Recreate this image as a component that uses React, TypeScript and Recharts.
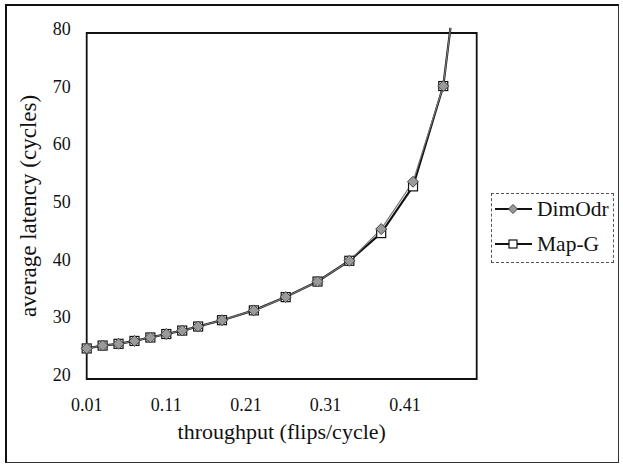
import React from 'react';
import { LineChart, Line, XAxis, YAxis, ReferenceArea, Legend, Label } from 'recharts';

const throughput = [0.01, 0.03, 0.05, 0.07, 0.09, 0.11, 0.13, 0.15, 0.18, 0.22, 0.26, 0.30, 0.34, 0.38, 0.42, 0.458, 0.467];
const dimOdr = [25.3, 25.8, 26.1, 26.6, 27.2, 27.8, 28.4, 29.1, 30.2, 31.9, 34.2, 36.9, 40.5, 46.0, 54.2, 70.8, 80.9];
const mapG = [25.3, 25.8, 26.1, 26.6, 27.2, 27.8, 28.4, 29.1, 30.2, 31.9, 34.2, 36.9, 40.5, 45.3, 53.4, 70.8, 80.9];
const xTicks = [0.01, 0.11, 0.21, 0.31, 0.41];
const yTicks = [20, 30, 40, 50, 60, 70, 80];
const seriesNames = ['DimOdr', 'Map-G'];
const xTitle = 'throughput (flips/cycle)';
const yTitle = 'average latency (cycles)';

const data = throughput.map((x, i) => ({ x, dimOdr: dimOdr[i], mapG: mapG[i] }));
const FONT = '"Liberation Serif", "Times New Roman", serif';

const DiamondDot = (props: any) => {
  const { cx, cy, index } = props;
  if (index === data.length - 1 || cx == null || cy == null) return <g key={`d${index}`} />;
  const r = 5.5;
  return (
    <polygon
      key={`d${index}`}
      points={`${cx},${cy - r} ${cx + r},${cy} ${cx},${cy + r} ${cx - r},${cy}`}
      fill="#9a9a9a"
      stroke="#444"
      strokeWidth={1}
    />
  );
};

const SquareDot = (props: any) => {
  const { cx, cy, index } = props;
  if (index === data.length - 1 || cx == null || cy == null) return <g key={`s${index}`} />;
  const h = 4.5;
  return <rect key={`s${index}`} x={cx - h} y={cy - h} width={2 * h} height={2 * h} fill="#fff" stroke="#111" strokeWidth={1.2} />;
};

const XTick = (props: any) => {
  const { x, y, payload } = props;
  return (
    <text x={x} y={y + 32} textAnchor="middle" fontFamily={FONT} fontSize={18} fill="#111">
      {String(payload.value)}
    </text>
  );
};

const YTick = (props: any) => {
  const { x, y, payload } = props;
  return (
    <text x={x} y={y + 2} textAnchor="end" fontFamily={FONT} fontSize={18} fill="#111">
      {String(payload.value)}
    </text>
  );
};

const LegendContent = () => (
  <div style={{ fontFamily: FONT, fontSize: 21.5, color: '#111', position: 'relative', width: '100%', height: '100%' }}>
    {seriesNames.map((name, i) => (
      <div
        key={name}
        style={{ position: 'absolute', left: 0, top: i === 0 ? 0 : 35, height: 30, display: 'flex', alignItems: 'center', whiteSpace: 'nowrap' }}
      >
        <svg width={44} height={30} style={{ display: 'block', flex: 'none' }}>
          <line x1={3} y1={15} x2={40} y2={15} stroke="#111" strokeWidth={1.8} />
          {i === 0 ? (
            <polygon points="21,10.5 25.5,15 21,19.5 16.5,15" fill="#9a9a9a" stroke="#444" strokeWidth={1} />
          ) : (
            <rect x={17} y={11} width={8} height={8} fill="#fff" stroke="#111" strokeWidth={1.2} />
          )}
        </svg>
        <span style={{ marginLeft: 1, lineHeight: '30px' }}>{name}</span>
      </div>
    ))}
  </div>
);

const YTitle = () => {
  const cx = 36;
  const cy = 206;
  return (
    <text x={cx} y={cy} transform={`rotate(-90 ${cx} ${cy})`} textAnchor="middle" fontFamily={FONT} fontSize={23} fill="#111">
      {yTitle}
    </text>
  );
};

export default function App() {
  return (
    <div style={{ position: 'absolute', left: 0, top: 0, width: 623, height: 465, background: '#fff' }}>
      <div
        style={{
          position: 'absolute',
          left: 5,
          top: 4,
          width: 611,
          height: 456,
          borderLeft: '2px solid #111',
          borderTop: '2px solid #111',
          borderRight: '1px solid #333',
          borderBottom: '1px solid #333',
        }}
      />
      <div style={{ position: 'absolute', left: 0, top: 0 }}>
        <LineChart width={623} height={465} data={data} margin={{ top: 27.23, right: 146.3, bottom: 26, left: 0 }}>
          <XAxis
            dataKey="x"
            type="number"
            domain={[0.01, 0.5]}
            ticks={xTicks}
            axisLine={false}
            tickLine={false}
            tickSize={0}
            tickMargin={0}
            height={60}
            tick={<XTick />}
            interval={0}
          >
            <Label
              value={xTitle}
              position="insideBottom"
              offset={0}
              style={{ fontFamily: FONT, fontSize: 22, fill: '#111' }}
            />
          </XAxis>
          <YAxis
            type="number"
            domain={[20, 81]}
            ticks={yTicks}
            axisLine={false}
            tickLine={false}
            tickSize={0}
            tickMargin={16}
            width={86.7}
            tick={<YTick />}
            interval={0}
          >
            <Label content={<YTitle />} />
          </YAxis>
          <ReferenceArea x1={0.01} x2={0.5} y1={20} y2={80} fill="none" fillOpacity={0} stroke="#111" strokeWidth={1.8} />
          <Line
            dataKey="mapG"
            name={seriesNames[1]}
            stroke="#111"
            strokeWidth={2.2}
            type="linear"
            dot={SquareDot}
            activeDot={false}
            isAnimationActive={false}
          />
          <Line
            dataKey="dimOdr"
            name={seriesNames[0]}
            stroke="#777"
            strokeWidth={1.2}
            type="linear"
            dot={DiamondDot}
            activeDot={false}
            isAnimationActive={false}
          />
          <Legend
            layout="vertical"
            align="center"
            verticalAlign="middle"
            content={<LegendContent />}
            wrapperStyle={{
              left: 491,
              top: 193,
              width: 123,
              height: 70,
              border: '1px dashed #555',
              boxSizing: 'border-box',
              margin: 0,
            }}
          />
        </LineChart>
      </div>
    </div>
  );
}
